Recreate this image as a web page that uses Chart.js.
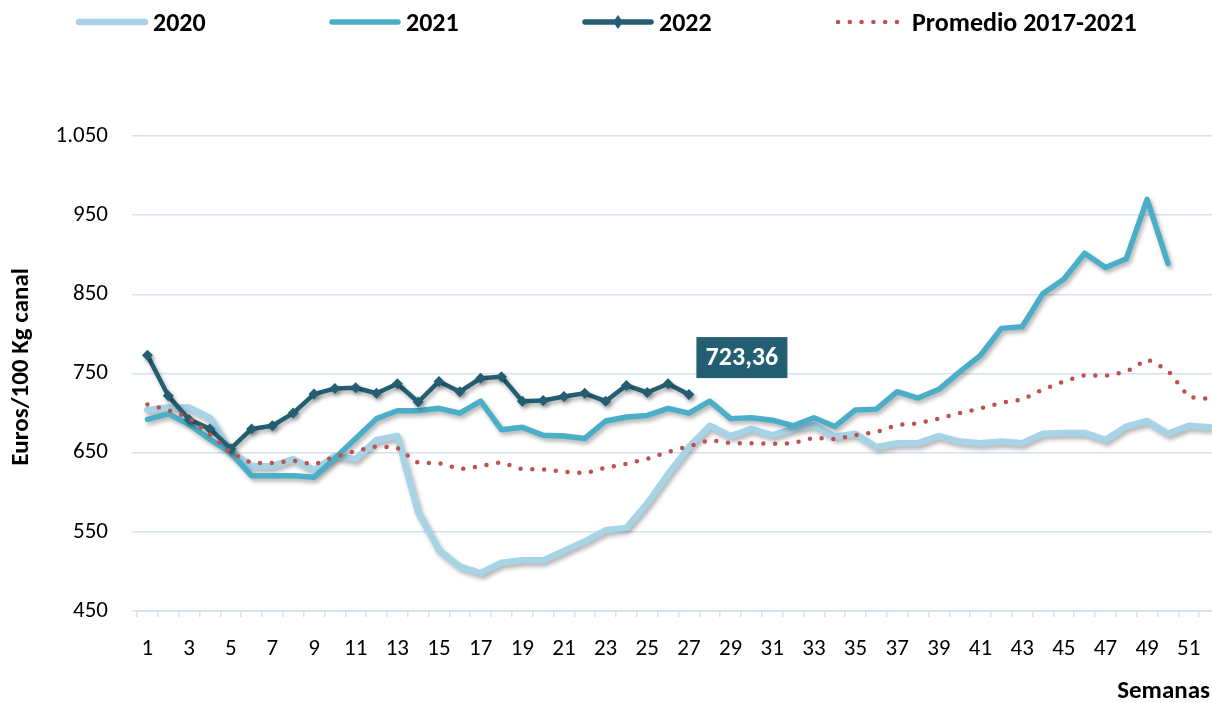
<!DOCTYPE html>
<html>
<head>
<meta charset="utf-8">
<script src="https://cdn.jsdelivr.net/npm/chart.js@4/dist/chart.umd.min.js"></script>
<style>
  html, body { margin: 0; padding: 0; background: #ffffff; overflow: hidden; }
  #clip { width: 1212px; height: 703px; overflow: hidden; position: relative; }
  #wrap { width: 1232px; height: 703px; position: relative; }
</style>
</head>
<body>
<div id="clip"><div id="wrap"><canvas id="c"></canvas></div></div>
<script>
const weeks = ['1','2','3','4','5','6','7','8','9','10','11','12','13','14','15','16','17','18','19','20','21','22','23','24','25','26','27','28','29','30','31','32','33','34','35','36','37','38','39','40','41','42','43','44','45','46','47','48','49','50','51','52'];

const series2020 = [704,707,707,694,652,633,633,642,628,646,642,666,671,575,527,506,498,511,514,514,526,538,552,555,586,623,657,684,671,680,672,680,685,670,674,657,662,662,671,664,662,664,662,674,675,675,666,683,690,674,684,682];

const series2021 = [692,699,686,667,650,621,621,621,619,643,668,693,703,703,706,700,715,679,682,672,671,668,690,695,697,706,700,715,693,694,691,684,694,683,704,705,727,719,730,752,773,807,809,851,869,902,884,895,970,889,null,null];

const series2022 = [773,722,692,680,655,680,684,700,724,731,732,725,737,714,740,727,744,746,715,716,721,725,715,735,726,737,723.36];

const seriesAvg = [711,704,694,673,650,637,637,640,635,645,652,658,656,637,637,629,633,638,629,629,626,624,631,636,642,651,658,666,662,662,661,662,669,667,672,676,685,687,693,700,706,713,717,730,740,748,747,752,768,754,720,718];

const seriesNames = ['2020', '2021', '2022', 'Promedio 2017-2021'];
const yTicks = [450, 550, 650, 750, 850, 950, 1050];
const xTitle = 'Semanas';
const yTitle = 'Euros/100 Kg canal';

const FONT = "Carlito, Calibri, Lato, 'Open Sans', sans-serif";
const C2020 = '#A6D3E6';
const C2021 = '#4BAEC8';
const C2022 = '#245E72';
const CAVG = '#C0504D';

const fmtThousands = v => String(v).replace(/\B(?=(\d{3})+(?!\d))/g, '.');
const fmtDecimal = v => v.toFixed(2).replace('.', ',');

const shadowPlugin = {
  id: 'shadow',
  beforeDatasetDraw(chart, args) {
    const ds = chart.data.datasets[args.index];
    if (ds.noShadow) return;
    const ctx = chart.ctx;
    ctx.save();
    ctx.shadowColor = 'rgba(0,0,0,0.30)';
    ctx.shadowBlur = 4;
    ctx.shadowOffsetX = 2;
    ctx.shadowOffsetY = 3;
  },
  afterDatasetDraw(chart, args) {
    const ds = chart.data.datasets[args.index];
    if (ds.noShadow) return;
    chart.ctx.restore();
  }
};

const legendPlugin = {
  id: 'customLegend',
  afterDraw(chart) {
    const ctx = chart.ctx;
    const startX = 76, step = 253, y = 22, sample = 72;
    ctx.save();
    chart.data.datasets.forEach((ds, i) => {
      const x0 = startX + i * step;
      ctx.save();
      ctx.strokeStyle = ds.borderColor;
      ctx.lineWidth = ds.legendWidth;
      ctx.lineCap = 'round';
      if (ds.borderDash && ds.borderDash.length) {
        ctx.setLineDash(ds.borderDash);
      }
      ctx.beginPath();
      ctx.moveTo(x0 + 3, y);
      ctx.lineTo(x0 + sample - 3, y);
      ctx.stroke();
      ctx.restore();
      if (ds.pointStyle === 'rectRot' && ds.pointRadius > 0) {
        const cx = x0 + sample / 2, r = 7;
        ctx.fillStyle = ds.borderColor;
        ctx.beginPath();
        ctx.moveTo(cx, y - r);
        ctx.lineTo(cx + r * 0.7, y);
        ctx.lineTo(cx, y + r);
        ctx.lineTo(cx - r * 0.7, y);
        ctx.closePath();
        ctx.fill();
      }
      ctx.fillStyle = '#000000';
      ctx.font = "bold 26px " + FONT;
      ctx.textBaseline = 'middle';
      ctx.textAlign = 'left';
      ctx.fillText(ds.label, x0 + sample + 5, y + 2);
    });
    ctx.restore();
  }
};

const axisTitlesPlugin = {
  id: 'axisTitles',
  afterDraw(chart) {
    const ctx = chart.ctx;
    ctx.save();
    ctx.fillStyle = '#000000';
    ctx.font = "bold 25px " + FONT;
    ctx.textAlign = 'right';
    ctx.textBaseline = 'middle';
    ctx.fillText(xTitle, 1210, 692);
    ctx.translate(22, 367);
    ctx.rotate(-Math.PI / 2);
    ctx.textAlign = 'center';
    ctx.font = "bold 25px " + FONT;
    ctx.fillText(yTitle, 0, 0);
    ctx.restore();
  }
};

const valueLabelPlugin = {
  id: 'valueLabel',
  afterDatasetsDraw(chart) {
    const idx = chart.data.datasets.findIndex(d => d.label === '2022');
    const ds = chart.data.datasets[idx];
    let last = -1;
    ds.data.forEach((v, i) => { if (v !== null && v !== undefined) last = i; });
    if (last < 0) return;
    const pt = chart.getDatasetMeta(idx).data[last];
    const ctx = chart.ctx;
    const w = 91, h = 41;
    const cx = pt.x + 53, cy = pt.y - 37;
    ctx.save();
    ctx.fillStyle = '#245E72';
    ctx.fillRect(cx - w / 2, cy - h / 2, w, h);
    ctx.fillStyle = '#ffffff';
    ctx.font = "bold 26px " + FONT;
    ctx.textAlign = 'center';
    ctx.textBaseline = 'middle';
    ctx.fillText(fmtDecimal(ds.data[last]), cx, cy + 1);
    ctx.restore();
  }
};

new Chart(document.getElementById('c'), {
  type: 'line',
  data: {
    labels: weeks,
    datasets: [
      { label: seriesNames[0], data: series2020, borderColor: C2020, backgroundColor: C2020,
        borderWidth: 6.5, legendWidth: 6.5, pointRadius: 0, pointHoverRadius: 0, tension: 0, order: 3,
        borderCapStyle: 'round', borderJoinStyle: 'round' },
      { label: seriesNames[1], data: series2021, borderColor: C2021, backgroundColor: C2021,
        borderWidth: 5.5, legendWidth: 5.5, pointRadius: 0, pointHoverRadius: 0, tension: 0, order: 2,
        borderCapStyle: 'round', borderJoinStyle: 'round' },
      { label: seriesNames[2], data: series2022, borderColor: C2022, backgroundColor: C2022,
        borderWidth: 4.5, legendWidth: 5.5, pointStyle: 'rectRot', pointRadius: 5.5, pointHoverRadius: 5.5,
        pointBorderWidth: 0, tension: 0, order: 1, borderCapStyle: 'round', borderJoinStyle: 'round' },
      { label: seriesNames[3], data: seriesAvg, borderColor: CAVG, backgroundColor: CAVG,
        borderWidth: 4.5, legendWidth: 4.5, borderDash: [0, 11.8], borderCapStyle: 'round',
        pointRadius: 0, pointHoverRadius: 0, tension: 0, order: 0, noShadow: true }
    ]
  },
  options: {
    responsive: true,
    maintainAspectRatio: false,
    animation: false,
    layout: { padding: { top: 136, left: 8, right: 12, bottom: 0 } },
    plugins: {
      legend: { display: false },
      tooltip: { enabled: false }
    },
    scales: {
      x: {
        type: 'category',
        offset: true,
        afterFit: scale => { scale.height = 92; scale.paddingLeft = 0; scale.paddingRight = 0; },
        grid: { display: true, drawOnChartArea: false, drawTicks: true, tickLength: 6,
                color: '#D6E2F1', lineWidth: 1.5, offset: true },
        border: { display: true, color: '#D6E2F1', width: 2 },
        ticks: {
          autoSkip: false, maxRotation: 0, minRotation: 0, padding: 18,
          color: '#000000', font: { family: FONT, size: 23 },
          callback: function(val, index) { return index % 2 === 0 ? this.getLabelForValue(val) : ''; }
        },
        title: { display: false }
      },
      y: {
        min: yTicks[0],
        max: yTicks[yTicks.length - 1],
        afterBuildTicks: scale => { scale.ticks = yTicks.map(v => ({ value: v })); },
        afterFit: scale => { scale.width = 129; scale.paddingTop = 0; scale.paddingBottom = 0; },
        grid: { color: '#D6E2F1', lineWidth: 1.5, drawTicks: true, tickLength: 5 },
        border: { display: false },
        ticks: {
          padding: 24, color: '#000000', font: { family: FONT, size: 23 },
          callback: v => fmtThousands(v)
        },
        title: { display: false }
      }
    }
  },
  plugins: [shadowPlugin, legendPlugin, valueLabelPlugin, axisTitlesPlugin]
});
</script>
</body>
</html>
